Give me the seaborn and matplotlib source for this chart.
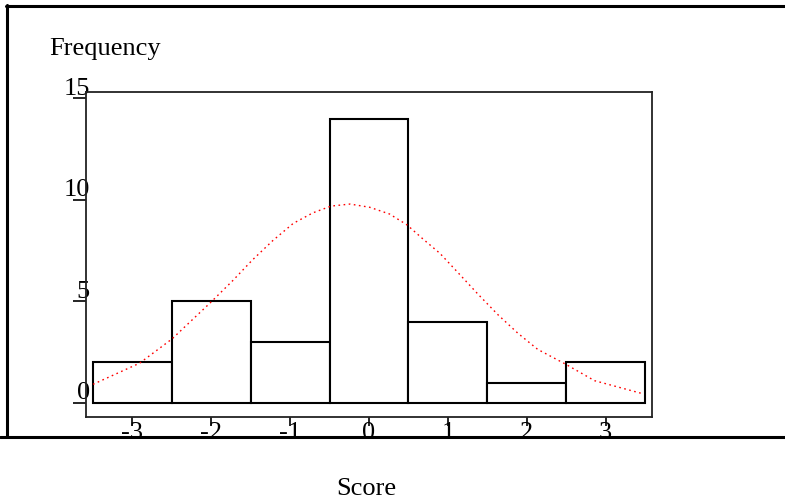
import numpy as np
import pandas as pd
import seaborn as sns
import matplotlib
matplotlib.use("Agg")
import matplotlib.pyplot as plt
from matplotlib.lines import Line2D
from matplotlib.transforms import ScaledTranslation

# histogram counts per score
scores = [-3, -2, -1, 0, 1, 2, 3]
counts = [2, 5, 3, 14, 4, 1, 2]

# normal curve
curve_x = [-3.50, -2.91, -2.50, -2.02, -1.73, -1.48, -1.22, -0.96, -0.71, -0.48,
           -0.24, 0.01, 0.26, 0.48, 0.69, 0.90, 1.11, 1.38, 1.64, 1.89,
           2.14, 2.49, 2.86, 3.45]
curve_y = [0.92, 1.96, 3.15, 4.91, 6.02, 7.04, 8.00, 8.85, 9.37, 9.70,
           9.80, 9.64, 9.31, 8.78, 8.06, 7.37, 6.50, 5.37, 4.33, 3.43,
           2.64, 1.92, 1.10, 0.48]

x_ticks = [-3, -2, -1, 0, 1, 2, 3]
x_labels = ["-3", "-2", "-1", "0", "1", "2", "3"]
y_ticks = [0, 5, 10, 15]
y_labels = ["0", "5", "10", "15"]

sns.set_theme(style="white")
plt.rcParams["font.family"] = ["Liberation Serif", "DejaVu Serif"]
plt.rcParams["axes.unicode_minus"] = False
plt.rcParams["text.color"] = "black"
plt.rcParams["axes.labelcolor"] = "black"
plt.rcParams["xtick.color"] = "black"
plt.rcParams["ytick.color"] = "black"

df = pd.DataFrame({"score": scores, "count": counts})

fig = plt.figure(figsize=(7.85, 4.99), dpi=100)
ax = fig.add_axes([86 / 785, 1 - 417 / 499, 566 / 785, 325 / 499])

sns.histplot(data=df, x="score", weights="count", discrete=True, shrink=1,
             color="white", edgecolor="black", linewidth=1.5, alpha=1, ax=ax)
sns.lineplot(x=curve_x, y=curve_y, color="red", linewidth=1.0,
             linestyle=(0, (1.2, 2.5)), ax=ax)

ax.set_xlim(-3.589, 3.589)
ax.set_ylim(-0.69, 15.32)
ax.set_xticks(x_ticks)
ax.set_xticklabels(x_labels)
ax.set_yticks(y_ticks)
ax.set_yticklabels(y_labels)

for s in ax.spines.values():
    s.set_color("#222222")
    s.set_linewidth(1.3)

ax.tick_params(axis="y", direction="out", length=9.4, width=1.2, colors="black",
               pad=-12.2, labelsize=19, left=True)
ax.tick_params(axis="x", direction="out", length=6.5, width=1.2, colors="black",
               pad=-3, labelsize=19, bottom=True)
for lab in ax.get_yticklabels():
    lab.set_transform(lab.get_transform() + ScaledTranslation(0, 0.12, fig.dpi_scale_trans))

ax.set_xlabel("Score", fontsize=19, va="baseline", color="black")
ax.xaxis.set_label_coords(0.495, -(495 - 417) / 325)
ax.set_ylabel("Frequency", fontsize=19, rotation=0, ha="left", va="baseline", color="black")
ax.yaxis.set_label_coords((49 - 86) / 566, (417 - 55) / 325)

# outer frame lines
fig.add_artist(Line2D([6 / 785, 1], [1 - 5.5 / 499, 1 - 5.5 / 499], color="black", linewidth=2.2))
fig.add_artist(Line2D([6.5 / 785, 6.5 / 785], [1 - 5 / 499, 1 - 436.5 / 499], color="black", linewidth=2.2))
fig.add_artist(Line2D([0, 1], [1 - 436.5 / 499, 1 - 436.5 / 499], color="black", linewidth=2.2))

fig.savefig("out.png", dpi=100)
